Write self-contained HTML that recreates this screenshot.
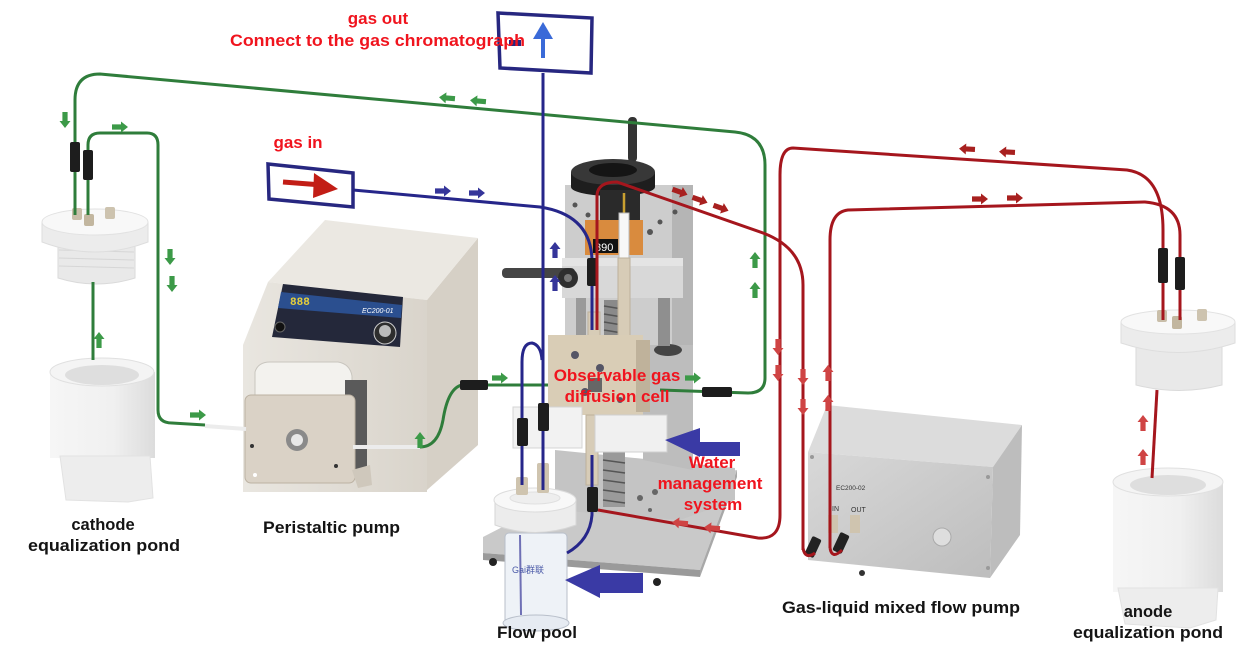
<!DOCTYPE html>
<html><head><meta charset="utf-8"><style>
html,body{margin:0;padding:0;background:#fff;}
svg{display:block;}
.lb{font-family:"Liberation Sans",Arial,sans-serif;font-weight:bold;font-size:16.5px;fill:#141414;}
.rd{font-family:"Liberation Sans",Arial,sans-serif;font-weight:bold;font-size:17px;fill:#f0141e;}
</style></head><body>
<svg width="1254" height="653" viewBox="0 0 1254 653" xmlns="http://www.w3.org/2000/svg">
<defs>
<path id="ar" d="M-8,-2.6 L1,-2.6 L1,-5.5 L8,0 L1,5.5 L1,2.6 L-8,2.6Z"/>
<linearGradient id="gpump" x1="0" y1="0" x2="1" y2="0"><stop offset="0" stop-color="#e9e6e0"/><stop offset="1" stop-color="#d9d4cb"/></linearGradient>
<linearGradient id="gsil" x1="0" y1="0" x2="1" y2="1"><stop offset="0" stop-color="#d8d8d8"/><stop offset="1" stop-color="#bdbdbd"/></linearGradient>
<linearGradient id="gwht" x1="0" y1="0" x2="1" y2="0"><stop offset="0" stop-color="#f6f6f6"/><stop offset="0.6" stop-color="#f0f0f0"/><stop offset="1" stop-color="#dcdcdc"/></linearGradient>
</defs>

<!-- ===== Cathode pond ===== -->
<g>
<path d="M58,240 L58,278 Q96,290 135,278 L135,240 Z" fill="#e9e9e9" stroke="#dadada"/>
<g stroke="#d6d6d6" stroke-width="1"><line x1="59" y1="250" x2="134" y2="252"/><line x1="59" y1="258" x2="134" y2="260"/><line x1="59" y1="266" x2="134" y2="268"/></g>
<path d="M42,222 L42,242 Q95,262 148,242 L148,222 Z" fill="#ececec" stroke="#dedede"/>
<ellipse cx="95" cy="222" rx="53" ry="13" fill="#f8f8f8" stroke="#e2e2e2"/>
<rect x="72" y="208" width="10" height="12" rx="2" fill="#c9bea9"/>
<rect x="84" y="214" width="10" height="12" rx="2" fill="#c2b69f"/>
<rect x="105" y="207" width="10" height="12" rx="2" fill="#cdc3af"/>
<!-- pond body -->
<path d="M50,372 L50,458 L155,458 L155,372 Z" fill="url(#gwht)"/>
<path d="M60,456 L150,456 L153,498 L128,502 L66,500 Z" fill="#ededed" stroke="#e2e2e2"/>
<ellipse cx="102" cy="372" rx="52" ry="14" fill="#f4f4f4" stroke="#e0e0e0"/>
<ellipse cx="102" cy="375" rx="37" ry="10" fill="#dedede"/>
</g>

<!-- ===== Peristaltic pump ===== -->
<g>
<polygon points="427,300 478,238 478,445 427,490" fill="#d6d0c6"/>
<polygon points="268,282 325,220 478,238 427,300" fill="#ebe8e2"/>
<polygon points="243,345 268,282 427,300 427,492 243,492" fill="url(#gpump)"/>
<!-- display -->
<polygon points="283,284 403,297 400,347 272,337" fill="#24283a"/>
<polygon points="281,292 402,305 401,318 278,308" fill="#2b4f8f"/>
<text x="290" y="305" font-family="Liberation Mono,monospace" font-weight="bold" font-size="11" fill="#e6cf3a">888</text>
<text x="362" y="313" font-family="Liberation Sans,sans-serif" font-style="italic" font-size="7" fill="#fff">EC200-01</text>
<circle cx="280" cy="327" r="5" fill="#111" stroke="#666"/>
<circle cx="385" cy="333" r="11" fill="#2e2e2e" stroke="#ccc"/>
<circle cx="385" cy="331" r="6" fill="#bbb"/>
<!-- head -->
<path d="M255,372 Q258,362 270,362 L338,362 Q350,364 352,376 L352,420 L255,420 Z" fill="#f3f2ee" stroke="#c9c6bf"/>
<rect x="345" y="380" width="22" height="90" fill="#5a5a5a"/>
<rect x="245" y="395" width="110" height="88" rx="6" fill="#dad2c6" stroke="#bcb2a3"/>
<circle cx="297" cy="440" r="11" fill="#8a8a8a"/>
<circle cx="297" cy="440" r="6" fill="#e8e8e8"/>
<circle cx="252" cy="446" r="2" fill="#333"/><circle cx="336" cy="466" r="2" fill="#333"/><circle cx="255" cy="475" r="2" fill="#fff"/>
<polygon points="352,470 370,465 372,485 358,488" fill="#cfc8bc"/>
</g>

<!-- ===== Central apparatus ===== -->
<g>
<!-- base plate -->
<polygon points="483,537 555,500 737,470 700,570 483,553" fill="#c9c9c9"/>
<polygon points="483,553 700,570 700,577 483,560" fill="#9a9a9a"/>
<polygon points="700,570 737,470 737,477 700,577" fill="#a8a8a8"/>
<circle cx="493" cy="562" r="4" fill="#222"/><circle cx="657" cy="582" r="4" fill="#222"/>
<!-- back plate -->
<rect x="565" y="185" width="128" height="165" fill="#cdcdcd"/>
<rect x="672" y="185" width="21" height="165" fill="#b5b5b5"/>
<circle cx="575" cy="205" r="2.5" fill="#555"/><circle cx="588" cy="215" r="2.5" fill="#555"/><circle cx="660" cy="222" r="2.5" fill="#555"/><circle cx="675" cy="212" r="2.5" fill="#555"/><circle cx="650" cy="232" r="3" fill="#555"/>
<!-- lower machine body -->
<polygon points="555,450 735,468 735,500 680,520 555,510" fill="#c4c4c4"/>
<polygon points="643,345 693,345 693,470 643,460" fill="#bdbdbd"/>
<ellipse cx="668" cy="350" rx="14" ry="6" fill="#444"/>
<circle cx="640" cy="498" r="3" fill="#666"/><circle cx="655" cy="492" r="3" fill="#666"/><circle cx="650" cy="510" r="2" fill="#666"/>
<!-- handle & knob -->
<rect x="628" y="117" width="9" height="45" rx="4" fill="#333"/>
<rect x="571" y="172" width="84" height="15" fill="#1e1e1e"/>
<ellipse cx="613" cy="187" rx="42" ry="9" fill="#1e1e1e"/>
<ellipse cx="613" cy="172" rx="42" ry="13" fill="#383838"/>
<ellipse cx="613" cy="170" rx="24" ry="7" fill="#151515"/>
<rect x="600" y="190" width="40" height="32" fill="#2a2a2a"/>
<!-- orange block -->
<rect x="585" y="220" width="58" height="35" fill="#d98b3e"/>
<rect x="593" y="239" width="25" height="14" fill="#111"/>
<text x="595" y="251" font-family="Liberation Sans,sans-serif" font-size="11" fill="#fff">890</text>
<!-- bracket -->
<polygon points="562,258 683,258 683,298 562,298" fill="#d8d8d8"/>
<rect x="562" y="258" width="121" height="8" fill="#e4e4e4"/>
<rect x="502" y="268" width="73" height="10" rx="4" fill="#454545"/>
<circle cx="568" cy="278" r="10" fill="#2e2e2e"/><circle cx="568" cy="278" r="4" fill="#777"/>
<!-- columns & spring -->
<rect x="576" y="298" width="10" height="48" fill="#9a9a9a"/>
<rect x="658" y="298" width="12" height="48" fill="#8f8f8f"/>
<rect x="604" y="300" width="18" height="46" fill="#8a8a8a"/>
<g stroke="#555" stroke-width="1.5"><line x1="604" y1="306" x2="622" y2="309"/><line x1="604" y1="314" x2="622" y2="317"/><line x1="604" y1="322" x2="622" y2="325"/><line x1="604" y1="330" x2="622" y2="333"/><line x1="604" y1="338" x2="622" y2="341"/></g>
<!-- electrode -->
<line x1="624" y1="193" x2="624" y2="215" stroke="#c9a030" stroke-width="2.5"/>
<rect x="619" y="213" width="10" height="45" fill="#f7f7f7" stroke="#bbb"/>
<rect x="618" y="258" width="12" height="88" fill="#d7ccb7" stroke="#bdb19b"/>
<rect x="588" y="312" width="12" height="34" fill="#d7ccb7" stroke="#bdb19b"/>
<!-- cell block -->
<rect x="548" y="335" width="95" height="80" fill="#d9cdb6"/>
<rect x="636" y="340" width="14" height="72" fill="#bfb29b"/>
<circle cx="575" cy="355" r="4" fill="#556"/><circle cx="600" cy="368" r="4" fill="#556"/><circle cx="585" cy="392" r="4" fill="#556"/><circle cx="620" cy="400" r="3" fill="#556"/>
<rect x="588" y="378" width="14" height="14" fill="#666"/>
<!-- lower spring -->
<rect x="603" y="452" width="22" height="55" fill="#9a9a9a"/>
<g stroke="#555" stroke-width="1.5"><line x1="603" y1="460" x2="625" y2="463"/><line x1="603" y1="470" x2="625" y2="473"/><line x1="603" y1="480" x2="625" y2="483"/><line x1="603" y1="490" x2="625" y2="493"/><line x1="603" y1="500" x2="625" y2="503"/></g>
<rect x="586" y="415" width="12" height="70" fill="#d7ccb7" stroke="#bdb19b"/>
<!-- white blocks -->
<rect x="513" y="407" width="69" height="41" fill="#f2f2f2" stroke="#d4d4d4"/>
<rect x="595" y="415" width="72" height="37" fill="#f0f0f0" stroke="#d0d0d0"/>
<!-- flow pool -->
<rect x="505" y="533" width="62" height="92" rx="4" fill="#eef2f7" stroke="#b8bfca"/>
<ellipse cx="536" cy="623" rx="33" ry="8" fill="#e6ebf2" stroke="#b8bfca"/>
<line x1="520" y1="535" x2="521" y2="615" stroke="#3a3a9a" stroke-width="2" opacity="0.7"/>
<text x="512" y="573" font-family="Liberation Sans,sans-serif" font-size="9" fill="#4b5aa8">Gai&#x7FA4;&#x8054;</text>
<path d="M495,500 L495,525 Q535,540 576,525 L576,500 Z" fill="#ececec" stroke="#d6d6d6"/>
<ellipse cx="535" cy="500" rx="41" ry="12" fill="#f8f8f8" stroke="#dcdcdc"/>
<ellipse cx="535" cy="498" rx="25" ry="6" fill="#eeeeee" stroke="#e0e0e0"/>
<rect x="516" y="477" width="12" height="18" rx="2" fill="#cfc4af"/>
<rect x="537" y="463" width="12" height="30" rx="2" fill="#cfc4af"/>
</g>

<!-- ===== Gas-liquid pump ===== -->
<g>
<polygon points="808,452 827,405 1022,425 993,467" fill="#dcdcdc"/>
<polygon points="993,467 1022,425 1020,535 990,578" fill="#bdbdbd"/>
<polygon points="808,452 993,467 990,578 808,560" fill="url(#gsil)"/>
<circle cx="812" cy="457" r="2" fill="#999"/><circle cx="988" cy="477" r="2" fill="#999"/><circle cx="988" cy="568" r="2" fill="#999"/>
<text x="836" y="490" font-family="Liberation Sans,sans-serif" font-size="6.5" fill="#333">EC200-02</text>
<text x="832" y="511" font-family="Liberation Sans,sans-serif" font-size="7" fill="#333">IN</text>
<text x="851" y="512" font-family="Liberation Sans,sans-serif" font-size="7" fill="#333">OUT</text>
<circle cx="942" cy="537" r="9" fill="#dedede" stroke="#aaa"/>
<rect x="828" y="515" width="10" height="18" fill="#cfc4af"/>
<rect x="850" y="515" width="10" height="18" fill="#cfc4af"/>
<rect x="808" y="537" width="10" height="20" rx="2" fill="#222" transform="rotate(25 813 547)"/>
<rect x="836" y="533" width="10" height="20" rx="2" fill="#222" transform="rotate(25 841 543)"/>
<circle cx="862" cy="573" r="3" fill="#333"/>
</g>

<!-- ===== Anode pond ===== -->
<g>
<path d="M1136,343 L1136,385 Q1179,396 1222,385 L1222,343 Z" fill="#e9e9e9" stroke="#dadada"/>
<path d="M1121,322 L1121,343 Q1178,362 1235,343 L1235,322 Z" fill="#ececec" stroke="#dedede"/>
<ellipse cx="1178" cy="322" rx="57" ry="12" fill="#f8f8f8" stroke="#e2e2e2"/>
<rect x="1157" y="310" width="10" height="12" rx="2" fill="#c9bea9"/>
<rect x="1172" y="316" width="10" height="13" rx="2" fill="#c2b69f"/>
<rect x="1197" y="309" width="10" height="12" rx="2" fill="#cdc3af"/>
<rect x="1113" y="482" width="110" height="110" fill="url(#gwht)"/>
<path d="M1118,588 L1218,588 L1216,620 L1190,628 L1125,624 Z" fill="#ededed" stroke="#e2e2e2"/>
<ellipse cx="1168" cy="482" rx="55" ry="14" fill="#f4f4f4" stroke="#e0e0e0"/>
<ellipse cx="1168" cy="485" rx="38" ry="10" fill="#dedede"/>
</g>

<!-- ===== Green tubes ===== -->
<g fill="none" stroke="#2f7d3b" stroke-width="3">
<path d="M75,215 L75,100 Q75,74 100,74 L735,132 Q765,135 765,165 L765,378 Q765,393 748,393 L660,390"/>
<path d="M88,215 L88,145 Q88,133 100,133 L147,133 Q158,133 158,145 L158,410 Q158,423 172,423 L205,425"/>
<path d="M93,360 L93,282"/>
<path d="M420,447 Q438,447 443,420 Q448,388 462,385 L548,385"/>
</g>
<g fill="none" stroke="#ececec" stroke-width="4"><path d="M205,426 L246,429"/><path d="M353,447 L420,447"/></g>
<g fill="#1d1d1d">
<rect x="70" y="142" width="10" height="30" rx="2"/><rect x="83" y="150" width="10" height="30" rx="2"/>
<rect x="460" y="380" width="28" height="10" rx="2"/><rect x="702" y="387" width="30" height="10" rx="2"/>
</g>

<!-- ===== Blue tubes ===== -->
<g fill="none" stroke="#26268a" stroke-width="3">
<path d="M543,73 L543,490"/>
<path d="M353,190 L540,207 Q592,215 592,262 L592,330"/>
<path d="M522,485 L522,362 Q522,343 532,343 Q541,345 542,360"/>
<path d="M592,455 L592,515 Q590,540 567,553"/>
</g>
<g fill="#1d1d1d">
<rect x="587" y="258" width="11" height="28" rx="2"/>
<rect x="517" y="418" width="11" height="28" rx="2"/><rect x="538" y="403" width="11" height="28" rx="2"/>
<rect x="587" y="487" width="11" height="25" rx="2"/>
</g>

<!-- ===== Red tubes ===== -->
<g fill="none" stroke="#a5161d" stroke-width="3">
<path d="M597,330 L597,195 Q598,182 617,182 L763,233 Q803,248 803,285 L803,550"/>
<path d="M1163,320 L1163,230 Q1163,175 1127,170 L793,148 Q780,148 780,175 L780,515 Q780,540 758,538 L598,510"/>
<path d="M1180,320 L1180,235 Q1180,205 1145,202 L848,210 Q830,212 830,240 L830,548"/>
<path d="M1157,390 L1152,478"/>
<path d="M803,548 Q805,560 815,553"/><path d="M830,548 Q832,560 842,550"/>
</g>
<g fill="#1d1d1d"><rect x="1158" y="248" width="10" height="35" rx="2"/><rect x="1175" y="257" width="10" height="33" rx="2"/></g>

<!-- ===== Boxes ===== -->
<polygon points="498,13 592,18 591,73 500,68" fill="#fff" stroke="#272780" stroke-width="3.5"/>
<line x1="543" y1="58" x2="543" y2="34" stroke="#3a6ad8" stroke-width="4"/>
<polygon points="543,22 533,39 553,39" fill="#3a6ad8"/>
<rect x="509" y="40" width="12" height="6" fill="#272780"/>
<polygon points="268,164 353,173 353,207 269,199" fill="#fff" stroke="#272780" stroke-width="3.5"/>
<line x1="283" y1="182" x2="322" y2="185" stroke="#c21d16" stroke-width="5"/>
<polygon points="338,189 314,173 313,198" fill="#c21d16"/>

<!-- ===== Big blue arrows ===== -->
<polygon points="665,440 700,428 700,442 740,442 740,456 700,456 700,457" fill="#3a3aa5"/>
<polygon points="565,580 600,565 600,573 643,573 643,593 600,593 600,598" fill="#3a3aa5"/>

<!-- ===== Small arrows ===== -->
<g fill="#3c9a48">
<use href="#ar" transform="translate(65,120) rotate(90)"/>
<use href="#ar" transform="translate(120,127)"/>
<use href="#ar" transform="translate(170,257) rotate(90)"/>
<use href="#ar" transform="translate(172,284) rotate(90)"/>
<use href="#ar" transform="translate(99,340) rotate(-90)"/>
<use href="#ar" transform="translate(198,415)"/>
<use href="#ar" transform="translate(447,98) rotate(185)"/>
<use href="#ar" transform="translate(478,101) rotate(185)"/>
<use href="#ar" transform="translate(755,260) rotate(-90)"/>
<use href="#ar" transform="translate(755,290) rotate(-90)"/>
<use href="#ar" transform="translate(500,378)"/>
<use href="#ar" transform="translate(693,378)"/>
<use href="#ar" transform="translate(420,440) rotate(-90)"/>
</g>
<g fill="#35359a">
<use href="#ar" transform="translate(443,191)"/>
<use href="#ar" transform="translate(477,193)"/>
<use href="#ar" transform="translate(555,250) rotate(-90)"/>
<use href="#ar" transform="translate(555,283) rotate(-90)"/>
</g>
<g fill="#a8201f">
<use href="#ar" transform="translate(680,192) rotate(20)"/>
<use href="#ar" transform="translate(700,200) rotate(20)"/>
<use href="#ar" transform="translate(721,208) rotate(20)"/>
<use href="#ar" transform="translate(967,149) rotate(183)"/>
<use href="#ar" transform="translate(1007,152) rotate(183)"/>
<use href="#ar" transform="translate(980,199)"/>
<use href="#ar" transform="translate(1015,198)"/>
</g>
<g fill="#cf4444">
<use href="#ar" transform="translate(778,347) rotate(90)"/>
<use href="#ar" transform="translate(778,373) rotate(90)"/>
<use href="#ar" transform="translate(803,377) rotate(90)"/>
<use href="#ar" transform="translate(803,407) rotate(90)"/>
<use href="#ar" transform="translate(828,373) rotate(-90)"/>
<use href="#ar" transform="translate(828,403) rotate(-90)"/>
<use href="#ar" transform="translate(680,523) rotate(185)"/>
<use href="#ar" transform="translate(712,528) rotate(185)"/>
<use href="#ar" transform="translate(1143,423) rotate(-90)"/>
<use href="#ar" transform="translate(1143,457) rotate(-90)"/>
</g>

<!-- ===== Labels ===== -->
<text class="rd" x="378" y="24" text-anchor="middle">gas out</text>
<text class="rd" x="230" y="46" textLength="295" lengthAdjust="spacingAndGlyphs">Connect to the gas chromatograph</text>
<text class="rd" x="298" y="148" text-anchor="middle">gas in</text>
<text class="rd" x="617" y="381" text-anchor="middle">Observable gas</text>
<text class="rd" x="617" y="402" text-anchor="middle">diffusion cell</text>
<text class="rd" x="712" y="468" text-anchor="middle">Water</text>
<text class="rd" x="710" y="489" text-anchor="middle">management</text>
<text class="rd" x="713" y="510" text-anchor="middle">system</text>

<text class="lb" x="103" y="530" text-anchor="middle">cathode</text>
<text class="lb" x="104" y="551" text-anchor="middle" textLength="152" lengthAdjust="spacingAndGlyphs">equalization pond</text>
<text class="lb" x="263" y="533" textLength="137" lengthAdjust="spacingAndGlyphs">Peristaltic pump</text>
<text class="lb" x="497" y="638" textLength="80" lengthAdjust="spacingAndGlyphs">Flow pool</text>
<text class="lb" x="782" y="613" textLength="238" lengthAdjust="spacingAndGlyphs">Gas-liquid mixed flow pump</text>
<text class="lb" x="1148" y="617" text-anchor="middle">anode</text>
<text class="lb" x="1073" y="638" textLength="150" lengthAdjust="spacingAndGlyphs">equalization pond</text>
</svg>
</body></html>
